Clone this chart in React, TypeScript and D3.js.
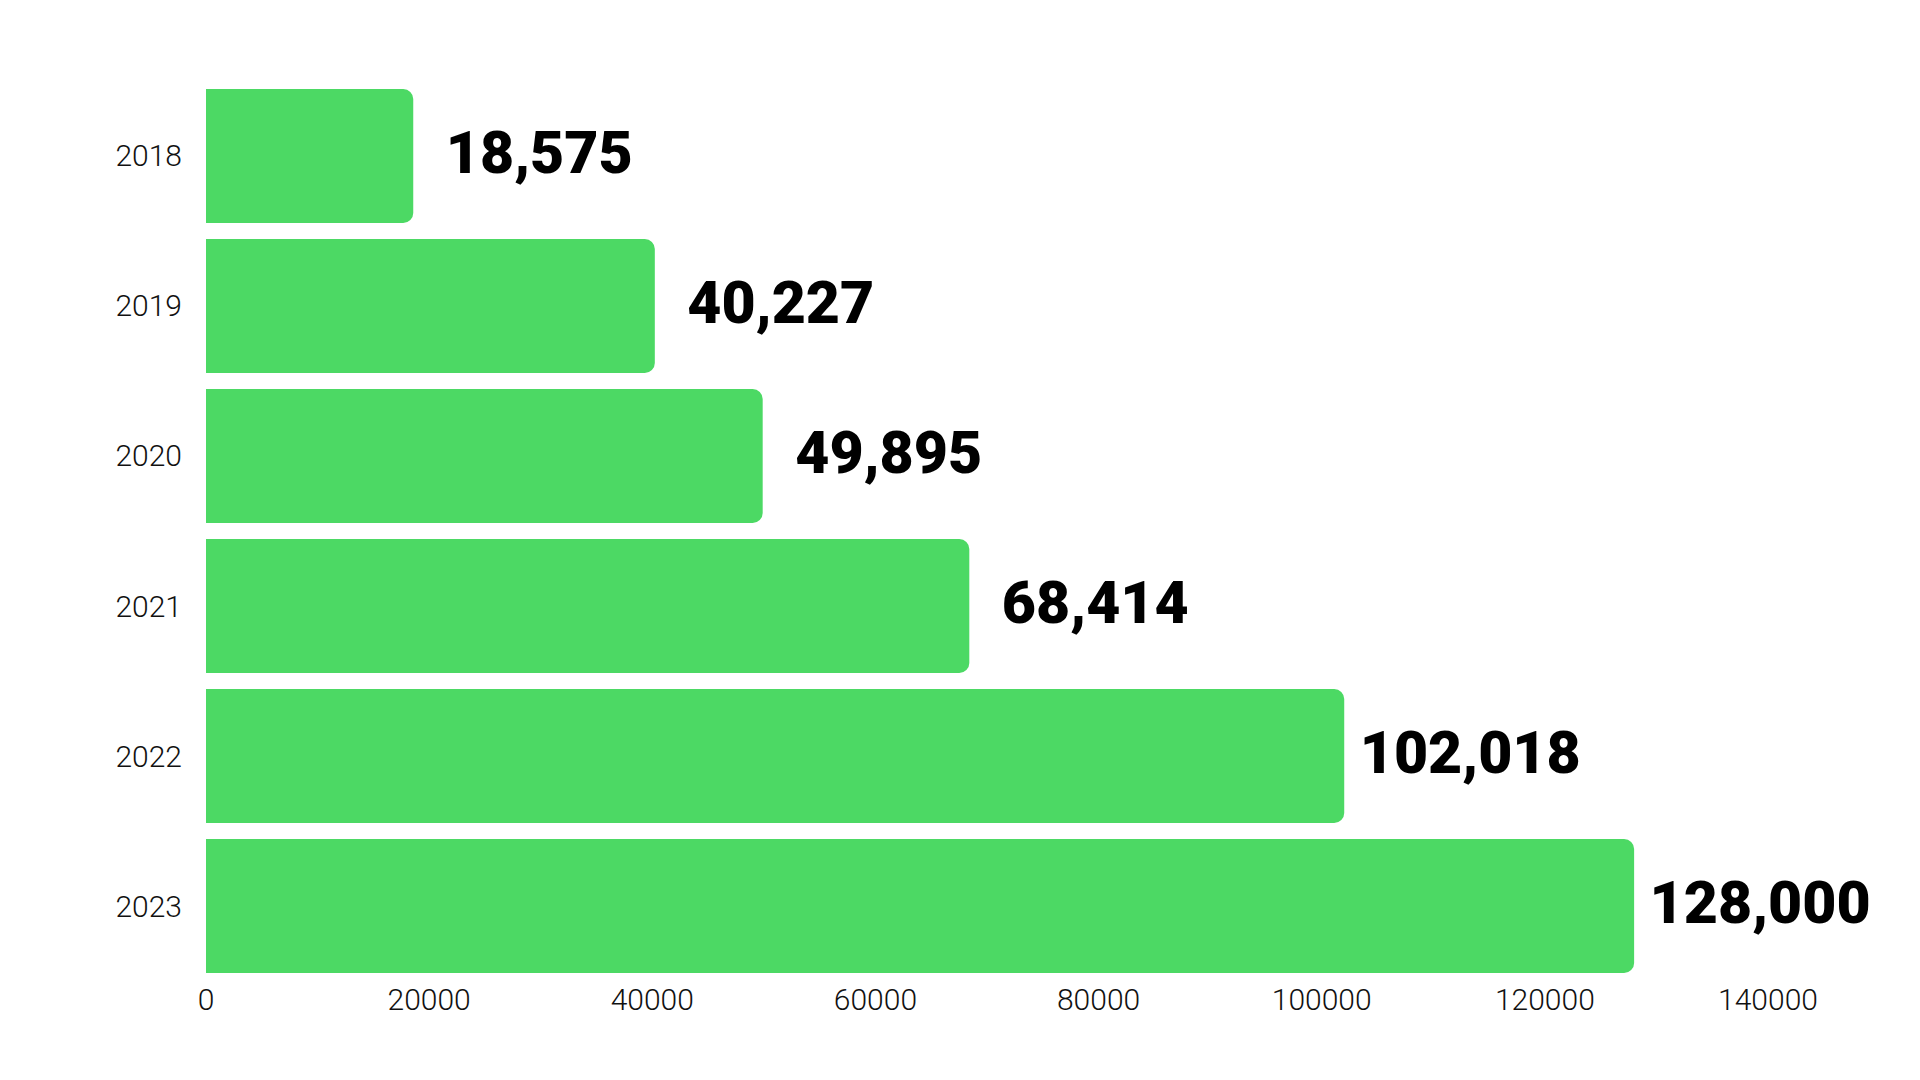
import * as d3 from "d3";

const years = ["2018", "2019", "2020", "2021", "2022", "2023"];
const counts = [18575, 40227, 49895, 68414, 102018, 128000];
const xTicks = [0, 20000, 40000, 60000, 80000, 100000, 120000, 140000];

const width = 1920;
const height = 1080;
const marginLeft = 206;
const plotRight = 1768;
const plotTop = 89;
const plotBottom = 973;
const barColor = "#4cd964";
const radius = 10;

// bar with square left end and rounded right end
function barPath(x0: number, y0: number, x1: number, y1: number, r: number) {
  const p = d3.path();
  p.moveTo(x0, y0);
  p.lineTo(x1 - r, y0);
  p.arcTo(x1, y0, x1, y0 + r, r);
  p.lineTo(x1, y1 - r);
  p.arcTo(x1, y1, x1 - r, y1, r);
  p.lineTo(x0, y1);
  p.closePath();
  return p.toString();
}

export default function App() {
  const x = d3.scaleLinear([0, 140000], [marginLeft, plotRight]);
  const y = d3
    .scaleBand<string>()
    .domain(years)
    .range([plotTop, plotBottom])
    .paddingInner(0.1067)
    .paddingOuter(0);

  const fmt = d3.format(",");

  return (
    <svg
      width={width}
      height={height}
      style={{ position: "absolute", left: 0, top: 0, background: "#fff" }}
    >
      {years.map((yr, i) => {
        const y0 = y(yr)!;
        const bw = y.bandwidth();
        const cy = y0 + bw / 2;
        return (
          <g key={yr}>
            <path
              d={barPath(x(0), y0, x(counts[i]), y0 + bw, radius)}
              fill={barColor}
            />
            <text
              x={182}
              y={cy + 10.5}
              textAnchor="end"
              fontFamily="Roboto, 'Noto Sans', sans-serif"
              fontWeight={300}
              fontSize={30}
              fill="#111"
            >
              {yr}
            </text>
            <text
              x={x(counts[i]) + 126}
              y={cy + 17}
              textAnchor="middle"
              fontFamily="Roboto, 'Noto Sans', sans-serif"
              fontWeight={900}
              fontSize={59}
              fill="#000"
            >
              {fmt(counts[i])}
            </text>
          </g>
        );
      })}
      {xTicks.map((t) => (
        <text
          key={t}
          x={x(t)}
          y={1010}
          textAnchor="middle"
          fontFamily="Roboto, 'Noto Sans', sans-serif"
          fontWeight={300}
          fontSize={30}
          fill="#111"
        >
          {t}
        </text>
      ))}
    </svg>
  );
}
